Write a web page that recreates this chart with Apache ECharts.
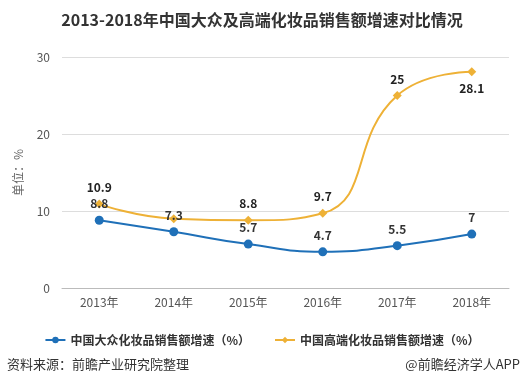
<!DOCTYPE html>
<html><head><meta charset="utf-8">
<script src="https://cdn.jsdelivr.net/npm/echarts@6/dist/echarts.min.js"></script>
<style>html,body{margin:0;padding:0;background:#fff}#c{width:524px;height:389px}</style>
</head><body><div id="c"></div>
<script>
const categories = ['2013年','2014年','2015年','2016年','2017年','2018年'];
const massGrowth = [8.8, 7.3, 5.7, 4.7, 5.5, 7];
const highGrowth = [10.9, 9.0, 8.8, 9.7, 25, 28.1];
const yTicks = [0, 10, 20, 30];
const seriesNames = ['中国大众化妆品销售额增速（%）', '中国高端化妆品销售额增速（%）'];

const font = '"Microsoft YaHei","Noto Sans CJK SC",sans-serif';
const chart = echarts.init(document.getElementById('c'));
chart.setOption({
  animation: false,
  textStyle: { fontFamily: font },
  title: {
    text: '2013-2018年中国大众及高端化妆品销售额增速对比情况',
    left: 'center', top: 7,
    textStyle: { fontSize: 16, fontWeight: 'bold', color: '#333', fontFamily: font }
  },
  graphic: [
    { type: 'text', left: 7, top: 358, style: { text: '资料来源：前瞻产业研究院整理', fontSize: 13, fill: '#333', fontFamily: font } },
    { type: 'text', right: 4, top: 358, style: { text: '@前瞻经济学人APP', fontSize: 13, fill: '#333', fontFamily: font } }
  ],
  legend: {
    top: 329, left: 'center', itemGap: 24, itemWidth: 20, itemHeight: 8,
    textStyle: { fontSize: 12, color: '#333', fontWeight: 'bold', fontFamily: font },
    data: seriesNames
  },
  grid: { left: 62, right: 15, top: 57, bottom: 101 },
  xAxis: {
    type: 'category', data: categories, boundaryGap: true,
    axisLine: { lineStyle: { color: '#bbb' } },
    axisTick: { alignWithLabel: true, lineStyle: { color: '#bbb' } },
    axisLabel: { color: '#555', fontSize: 12, margin: 8 }
  },
  yAxis: {
    type: 'value', min: yTicks[0], max: yTicks[yTicks.length - 1], interval: 10,
    name: '单位：%', nameLocation: 'middle', nameGap: 38, nameRotate: 90,
    nameTextStyle: { color: '#666', fontSize: 12 },
    axisLine: { show: false }, axisTick: { show: false },
    axisLabel: { color: '#555', fontSize: 12, margin: 12 },
    splitLine: { lineStyle: { color: '#ddd' } }
  },
  series: [
    {
      name: seriesNames[0], type: 'line', smooth: true, data: massGrowth,
      symbol: 'circle', symbolSize: 9,
      itemStyle: { color: '#1f70b8' }, lineStyle: { width: 2, color: '#1f70b8' },
      label: { show: true, position: 'top', distance: 6, color: '#333', fontSize: 12, fontWeight: 'bold' },
      z: 3
    },
    {
      name: seriesNames[1], type: 'line', smooth: true,
      data: highGrowth.map((v, i) => {
        if (i === 1) return { value: v, label: { show: false } };
        if (i === 5) return { value: v, label: { position: 'bottom' } };
        return v;
      }),
      symbol: 'diamond', symbolSize: 9,
      itemStyle: { color: '#eeb136' }, lineStyle: { width: 2, color: '#eeb136' },
      label: { show: true, position: 'top', distance: 6, color: '#222', fontSize: 12, fontWeight: 'bold' },
      z: 2
    }
  ]
});
</script></body></html>
